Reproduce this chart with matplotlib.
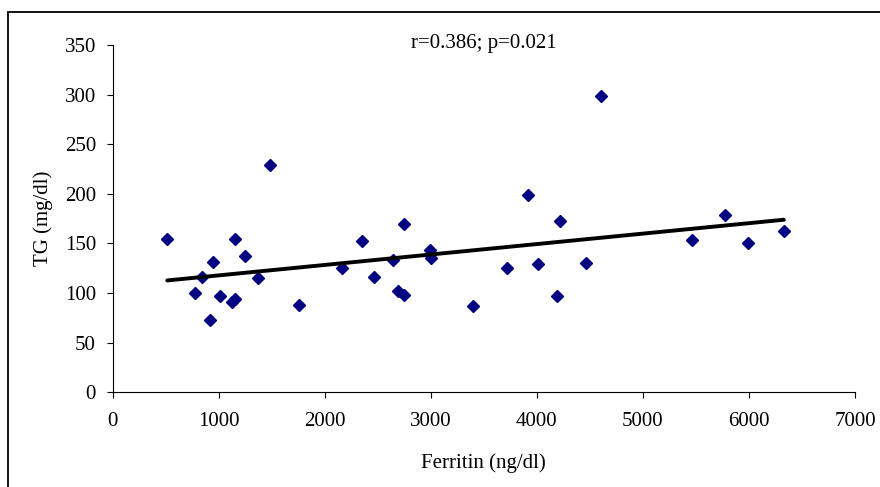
import numpy as np
import matplotlib.pyplot as plt
from matplotlib.patches import Rectangle

# ferritin (ng/dl) and TG (mg/dl)
ferritin = [515, 774, 846, 944, 921, 1016, 1129, 1154, 1154, 1252,
            1368, 1488, 1761, 2167, 2353, 2463, 2648, 2690, 2743, 2743,
            2988, 2998, 3397, 3715, 3916, 4014, 4193, 4218, 4460, 4602,
            5467, 5772, 5989, 6329]
tg = [155, 100, 116, 131, 73, 97, 91, 94, 155, 137,
      115, 229, 88, 125, 152, 116, 133, 102, 98, 170,
      143, 135, 87, 125, 199, 129, 97, 173, 130, 299,
      154, 179, 150, 163]

x_ticks = [0, 1000, 2000, 3000, 4000, 5000, 6000, 7000]
y_ticks = [0, 50, 100, 150, 200, 250, 300, 350]

plt.rcParams['font.family'] = ['Liberation Serif', 'DejaVu Serif']

fig = plt.figure(figsize=(8.8, 4.87), dpi=100)
ax = fig.add_axes([0.128, 0.1944, 0.8436, 0.7132])

ax.plot(ferritin, tg, 'D', color='#000080', ms=6.3, mec='#000080')

# linear trend line
k, b = np.polyfit(ferritin, tg, 1)
xs = np.array([min(ferritin), max(ferritin)])
ax.plot(xs, k * xs + b, color='black', lw=2.8, solid_capstyle='round')

ax.set_xlim(0, 7000)
ax.set_ylim(0, 350)
ax.set_xticks(x_ticks)
ax.set_yticks(y_ticks)
ax.tick_params(direction='out', length=4, width=0.8, labelsize=15)
ax.tick_params(axis='x', pad=10)
ax.tick_params(axis='y', pad=8)
for s in ['top', 'right']:
    ax.spines[s].set_visible(False)

ax.set_xlabel("Ferritin (ng/dl)", fontsize=15, labelpad=16)
ax.set_ylabel("TG (mg/dl)", fontsize=15, labelpad=8)
ax.text(0.5, 1.005, "r=0.386; p=0.021", transform=ax.transAxes,
        ha='center', va='center', fontsize=15)

# frame around the chart (cut at right and bottom)
fig.patches.append(Rectangle((8 / 880, -0.1), 1.2, 1.1 - 12 / 487,
                             transform=fig.transFigure, fill=False,
                             edgecolor='black', lw=1.3))

fig.savefig("out.png", dpi=100)
